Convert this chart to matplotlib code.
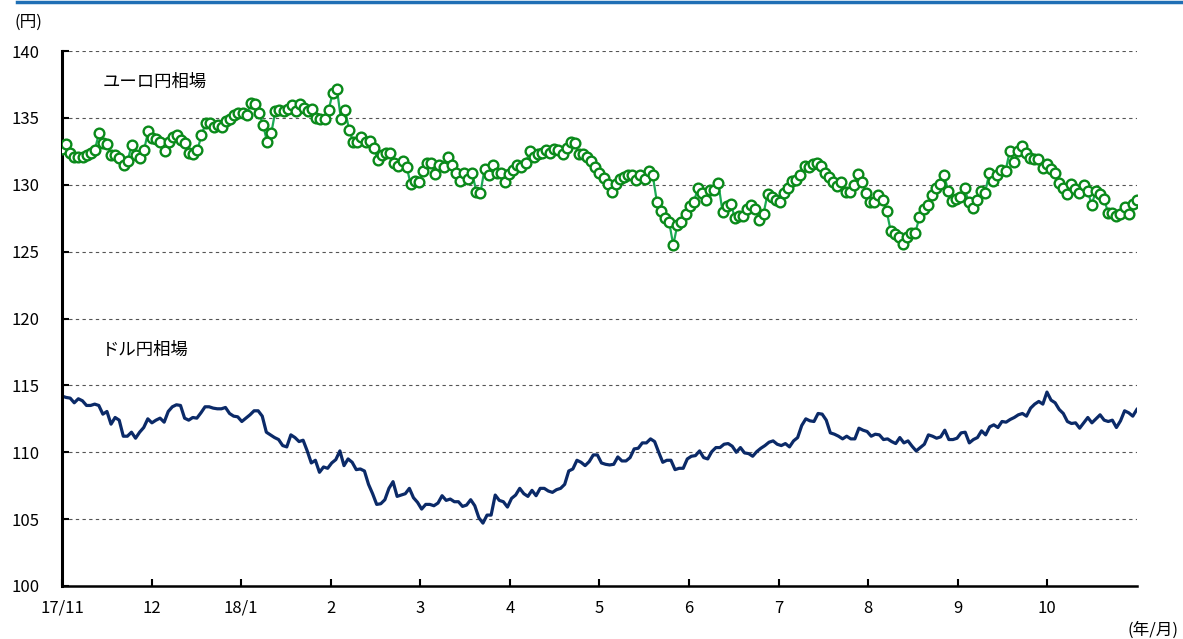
import matplotlib
matplotlib.use("Agg")
import matplotlib.pyplot as plt
import numpy as np
from matplotlib.lines import Line2D

plt.rcParams['font.family'] = ['Noto Sans CJK JP', 'DejaVu Sans']

# ユーロ円相場（営業日ベース、17/11～18/10）
eur = [132.7, 133.05, 132.4, 132.1, 132.1, 132.1, 132.2, 132.4, 132.6, 133.85, 133.1,
       133.05, 132.2, 132.2, 132.0, 131.5, 131.8, 133.0, 132.2, 132.0, 132.6, 134.0,
       133.5, 133.4, 133.2, 132.5, 133.2, 133.6, 133.7, 133.35, 133.1, 132.35, 132.3,
       132.6, 133.7, 134.6, 134.6, 134.35, 134.5, 134.3, 134.8, 134.9, 135.2, 135.35,
       135.4, 135.2, 136.1, 136.05, 135.4, 134.5, 133.2, 133.85, 135.5, 135.6, 135.55,
       135.7, 136.0, 135.5, 136.05, 135.75, 135.55, 135.7, 135.0, 134.9, 134.9, 135.6,
       136.9, 137.2, 134.9, 135.6, 134.1, 133.2, 133.2, 133.6, 133.2, 133.3, 132.75,
       131.85, 132.25, 132.4, 132.4, 131.6, 131.4, 131.75, 131.35, 130.05, 130.3,
       130.2, 131.0, 131.6, 131.6, 130.8, 131.5, 131.3, 132.1, 131.5, 130.9, 130.3,
       130.9, 130.4, 130.85, 129.5, 129.4, 131.2, 130.7, 131.5, 130.9, 130.9, 130.2,
       130.8, 131.1, 131.5, 131.35, 131.6, 132.5, 132.1, 132.3, 132.4, 132.6, 132.35,
       132.7, 132.6, 132.3, 132.75, 133.2, 133.1, 132.3, 132.3, 132.1, 131.8, 131.35, 130.9,
       130.5, 130.05, 129.5, 130.05, 130.4, 130.6, 130.75, 130.7, 130.35, 130.7, 130.4,
       131.0, 130.7, 128.75, 128.05, 127.5, 127.2, 125.5, 127.0, 127.25, 127.8, 128.4,
       128.7, 129.75, 129.4, 128.9, 129.6, 129.6, 130.1, 128.0, 128.4, 128.6, 127.55,
       127.7, 127.7, 128.2, 128.5, 128.2, 127.4, 127.85, 129.35, 129.1, 128.9, 128.75,
       129.4, 129.8, 130.25, 130.35, 130.75, 131.4, 131.3, 131.55, 131.6, 131.4, 130.9,
       130.6, 130.2, 129.9, 130.2, 129.5, 129.5, 130.0, 130.8, 130.2, 129.4, 128.7,
       128.7, 129.25, 128.85, 128.05, 126.55, 126.35, 126.1, 125.6, 126.1, 126.4, 126.4,
       127.6, 128.2, 128.5, 129.25, 129.75, 130.05, 130.75, 129.55, 128.8, 128.95,
       129.1, 129.75, 128.7, 128.25, 128.85, 129.55, 129.4, 130.85, 130.25, 130.7, 131.1,
       131.05, 132.5, 131.7, 132.55, 132.9, 132.4, 132.0, 131.9, 131.95, 131.25, 131.55,
       131.2, 130.9, 130.1, 129.8, 129.35, 130.05, 129.7, 129.4, 130.0, 129.55, 128.5,
       129.55, 129.3, 128.95, 127.9, 127.9, 127.7, 127.8, 128.35, 127.8, 128.6, 128.85]

# ドル円相場
usd = [114.2, 114.1, 114.05, 113.7, 114.0, 113.85, 113.5, 113.5, 113.6, 113.5, 112.85,
       113.05, 112.1, 112.6, 112.4, 111.2, 111.2, 111.5, 111.05, 111.5, 111.85, 112.5,
       112.2, 112.4, 112.55, 112.25, 113.05, 113.4, 113.55, 113.5, 112.55, 112.4, 112.6,
       112.55, 112.95, 113.4, 113.4, 113.3, 113.25, 113.25, 113.35, 112.9, 112.7, 112.65,
       112.3, 112.55, 112.8, 113.1, 113.1, 112.7, 111.5, 111.3, 111.1,
       110.95, 110.5, 110.4, 111.3, 111.1, 110.8, 110.9, 110.1, 109.2, 109.4, 108.5,
       108.9, 108.8, 109.2, 109.45, 110.1, 109.0, 109.5, 109.25, 108.7, 108.75, 108.6,
       107.6, 106.9, 106.1, 106.15, 106.45, 107.3, 107.8, 106.7, 106.8, 106.9, 107.3,
       106.6, 106.25, 105.75, 106.1, 106.1, 106.0, 106.2, 106.75, 106.4, 106.5, 106.3,
       106.3, 105.95, 106.05, 106.45, 106.0, 105.1, 104.7, 105.3, 105.3,
       106.8, 106.4, 106.3, 105.9, 106.55, 106.8, 107.3, 106.9, 106.7, 107.15, 106.75,
       107.3, 107.3, 107.1, 107.0, 107.2, 107.3, 107.6, 108.6, 108.75, 109.4, 109.25,
       109.0, 109.3, 109.8, 109.8, 109.2, 109.1, 109.05, 109.1, 109.65, 109.35, 109.35,
       109.6, 110.25, 110.3, 110.7, 110.7, 111.0, 110.8, 110.0, 109.25, 109.4, 109.4,
       108.7, 108.8, 108.8, 109.5, 109.7, 109.75, 110.1, 109.6, 109.5,
       110.05, 110.35, 110.35, 110.6, 110.65, 110.45, 110.0, 110.35, 109.95, 109.9, 109.7,
       110.05, 110.3, 110.5, 110.75, 110.85, 110.6, 110.5, 110.65, 110.4, 110.85, 111.1,
       112.0, 112.5, 112.35, 112.3, 112.9, 112.85, 112.4, 111.45, 111.35, 111.2, 111.0,
       111.2, 111.0, 111.0, 111.8, 111.65, 111.55, 111.2, 111.35, 111.3, 110.95, 111.0,
       110.8, 110.65, 111.1, 110.7, 110.85, 110.45, 110.1, 110.35,
       110.6, 111.3, 111.2, 111.05, 111.15, 111.65, 110.95, 110.95, 111.05, 111.45, 111.5,
       110.7, 110.95, 111.1, 111.6, 111.3, 111.9, 112.05, 111.85, 112.3, 112.25, 112.45,
       112.6, 112.8, 112.9, 112.7, 113.3, 113.6, 113.8, 113.6, 114.5, 113.9, 113.7,
       113.2, 112.9, 112.3, 112.15, 112.2, 111.8, 112.2, 112.6, 112.2, 112.5, 112.8,
       112.4, 112.3, 112.4, 111.85, 112.35, 113.1, 112.95, 112.7, 113.2]

month_labels = ['17/11', '12', '18/1', '2', '3', '4', '5', '6', '7', '8', '9', '10']

# 横軸は12か月を等間隔に
x_eur = np.linspace(0, 12, len(eur))
x_usd = np.linspace(0, 12, len(usd))

fig = plt.figure(figsize=(11.83, 6.39), dpi=100)
ax = fig.add_axes([0.0524, 0.083, 0.9086, 0.837])

for v in range(105, 141, 5):
    ax.axhline(v, color='#555555', lw=0.8, ls=(0, (3, 3)), zorder=0)

ax.plot(x_usd, usd, color='#0b2a68', lw=2.3, zorder=2)
ax.plot(x_eur, eur, color='#1aaa55', lw=1.6, marker='o', ms=7,
        mfc='white', mec='#0a8a1a', mew=1.7, zorder=3)

ax.set_xlim(0, 12)
ax.set_ylim(100, 140)
ax.set_yticks(range(100, 141, 5))
ax.set_xticks(range(12))
ax.set_xticklabels(month_labels)

for s in ['top', 'right']:
    ax.spines[s].set_visible(False)
ax.spines['left'].set_linewidth(2.2)
ax.spines['bottom'].set_linewidth(1.8)
ax.tick_params(axis='y', direction='in', length=5, width=1.5, labelsize=12, pad=16)
ax.tick_params(axis='x', direction='in', length=5, width=1.5, labelsize=12, pad=10)

ax.text(0.45, 137.7, 'ユーロ円相場', fontsize=12.5, va='center')
ax.text(0.45, 117.65, 'ドル円相場', fontsize=12.5, va='center')

fig.text(0.012, 0.965, '(円)', fontsize=12, va='center')
fig.text(0.996, 0.0, '(年/月)', fontsize=12, ha='right', va='bottom')

# 上部の青いライン
fig.add_artist(Line2D([0.014, 1.0], [0.9975, 0.9975], color='#1f6fb5', lw=2.5,
                      transform=fig.transFigure))

fig.savefig('out.png', dpi=100)
